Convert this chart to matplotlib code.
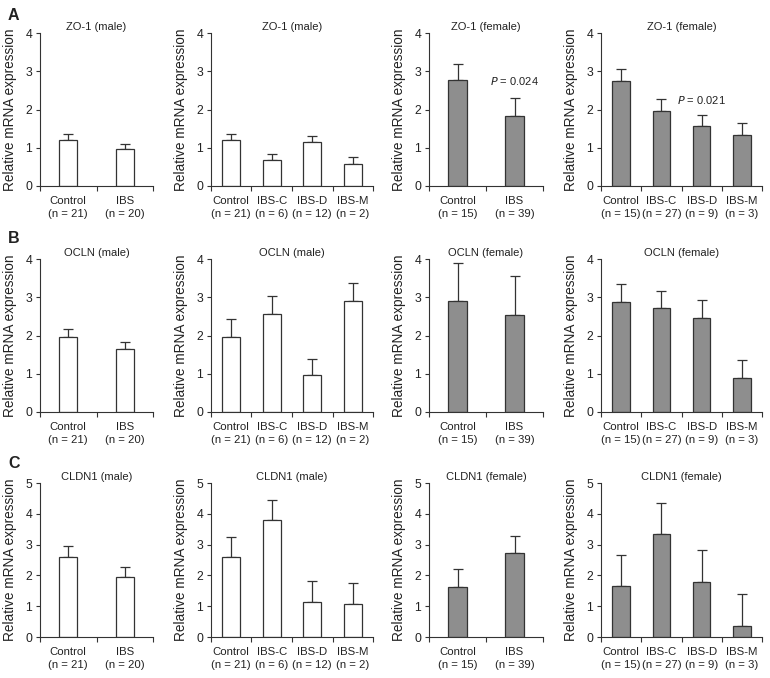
import numpy as np
import matplotlib
matplotlib.use("Agg")
import matplotlib.pyplot as plt
from matplotlib.ticker import FixedLocator, NullFormatter

plt.rcParams['font.family'] = ['Liberation Sans', 'DejaVu Sans']

# etichete categorii
lab_m2 = ["Control\n(n = 21)", "IBS\n(n = 20)"]
lab_m4 = ["Control\n(n = 21)", "IBS-C\n(n = 6)", "IBS-D\n(n = 12)", "IBS-M\n(n = 2)"]
lab_f2 = ["Control\n(n = 15)", "IBS\n(n = 39)"]
lab_f4 = ["Control\n(n = 15)", "IBS-C\n(n = 27)", "IBS-D\n(n = 9)", "IBS-M\n(n = 3)"]

# ZO-1
zo1_m2 = [1.21, 0.96]
zo1_m2_err = [0.16, 0.13]
zo1_m4 = [1.21, 0.67, 1.16, 0.58]
zo1_m4_err = [0.16, 0.17, 0.16, 0.18]
zo1_f2 = [2.77, 1.82]
zo1_f2_err = [0.43, 0.47]
zo1_f4 = [2.75, 1.95, 1.56, 1.33]
zo1_f4_err = [0.30, 0.33, 0.30, 0.32]

# OCLN
ocln_m2 = [1.97, 1.64]
ocln_m2_err = [0.20, 0.18]
ocln_m4 = [1.97, 2.57, 0.97, 2.91]
ocln_m4_err = [0.45, 0.46, 0.42, 0.46]
ocln_f2 = [2.90, 2.54]
ocln_f2_err = [0.99, 1.01]
ocln_f4 = [2.87, 2.72, 2.47, 0.90]
ocln_f4_err = [0.47, 0.45, 0.47, 0.46]

# CLDN1
cldn_m2 = [2.61, 1.96]
cldn_m2_err = [0.34, 0.32]
cldn_m4 = [2.61, 3.79, 1.14, 1.08]
cldn_m4_err = [0.64, 0.66, 0.68, 0.67]
cldn_f2 = [1.63, 2.73]
cldn_f2_err = [0.57, 0.55]
cldn_f4 = [1.66, 3.35, 1.78, 0.36]
cldn_f4_err = [0.99, 1.01, 1.05, 1.03]

W, H = 770, 678
txt = "#222222"
edge = "#333333"
gray = "#8e8e8e"

rows = [(33, 186), (259, 412), (483, 637)]
cols = [(40, 153), (211, 373), (429, 543), (601, 762)]

panels = [
    # rand, coloana, titlu, etichete, valori, erori, culoare, ymax
    (0, 0, "ZO-1 (male)", lab_m2, zo1_m2, zo1_m2_err, "white", 4),
    (0, 1, "ZO-1 (male)", lab_m4, zo1_m4, zo1_m4_err, "white", 4),
    (0, 2, "ZO-1 (female)", lab_f2, zo1_f2, zo1_f2_err, gray, 4),
    (0, 3, "ZO-1 (female)", lab_f4, zo1_f4, zo1_f4_err, gray, 4),
    (1, 0, "OCLN (male)", lab_m2, ocln_m2, ocln_m2_err, "white", 4),
    (1, 1, "OCLN (male)", lab_m4, ocln_m4, ocln_m4_err, "white", 4),
    (1, 2, "OCLN (female)", lab_f2, ocln_f2, ocln_f2_err, gray, 4),
    (1, 3, "OCLN (female)", lab_f4, ocln_f4, ocln_f4_err, gray, 4),
    (2, 0, "CLDN1 (male)", lab_m2, cldn_m2, cldn_m2_err, "white", 5),
    (2, 1, "CLDN1 (male)", lab_m4, cldn_m4, cldn_m4_err, "white", 5),
    (2, 2, "CLDN1 (female)", lab_f2, cldn_f2, cldn_f2_err, gray, 5),
    (2, 3, "CLDN1 (female)", lab_f4, cldn_f4, cldn_f4_err, gray, 5),
]

fig = plt.figure(figsize=(W / 100, H / 100), dpi=100)
axes = {}

for r, c, title, labels, vals, errs, color, ymax in panels:
    top, bot = rows[r]
    left, right = cols[c]
    ax = fig.add_axes([left / W, 1 - bot / H, (right - left) / W, (bot - top) / H])
    axes[(r, c)] = ax
    n = len(vals)
    x = np.arange(n) + 0.5
    width = 0.32 if n == 2 else 0.44
    ax.bar(x, vals, width, color=color, edgecolor=edge, linewidth=0.9, zorder=2)
    ax.errorbar(x, vals, yerr=[np.zeros(n), errs], fmt="none", ecolor=edge,
                elinewidth=0.9, capsize=3.5, capthick=0.9, zorder=1)
    ax.set_xlim(0, n)
    ax.set_ylim(0, ymax)
    ax.set_yticks(range(ymax + 1))
    ax.set_xticks(x)
    ax.set_xticklabels(labels, fontsize=8.2, color=txt, linespacing=1.45)
    ax.xaxis.set_minor_locator(FixedLocator(np.arange(n + 1)))
    ax.xaxis.set_minor_formatter(NullFormatter())
    ax.tick_params(axis="x", which="major", length=0, pad=7)
    ax.tick_params(axis="x", which="minor", length=3.5, width=0.8, color=edge)
    ax.tick_params(axis="y", length=3, width=0.8, color=edge, pad=2.5,
                   labelsize=8.8, labelcolor=txt)
    for s in ["top", "right"]:
        ax.spines[s].set_visible(False)
    for s in ["left", "bottom"]:
        ax.spines[s].set_color(edge)
        ax.spines[s].set_linewidth(0.8)
    ax.set_title(title, fontsize=8, color=txt, pad=2.5)
    ax.set_ylabel("Relative mRNA expression", fontsize=9.8, color=txt)
    ax.yaxis.set_label_coords(-23 / (right - left), 0.5)

# valori P
axes[(0, 2)].text(1.5, 2.75, "$P$ = 0.024", ha="center", va="center",
                  fontsize=8, color=txt)
axes[(0, 3)].text(2.5, 2.25, "$P$ = 0.021", ha="center", va="center",
                  fontsize=8, color=txt)

# litere panouri
for letter, yc in [("A", 15), ("B", 239), ("C", 464)]:
    fig.text(8 / W, 1 - yc / H, letter, fontsize=11.5, fontweight="bold",
             color=txt, va="center", ha="left")

plt.savefig("out.png", dpi=100)
